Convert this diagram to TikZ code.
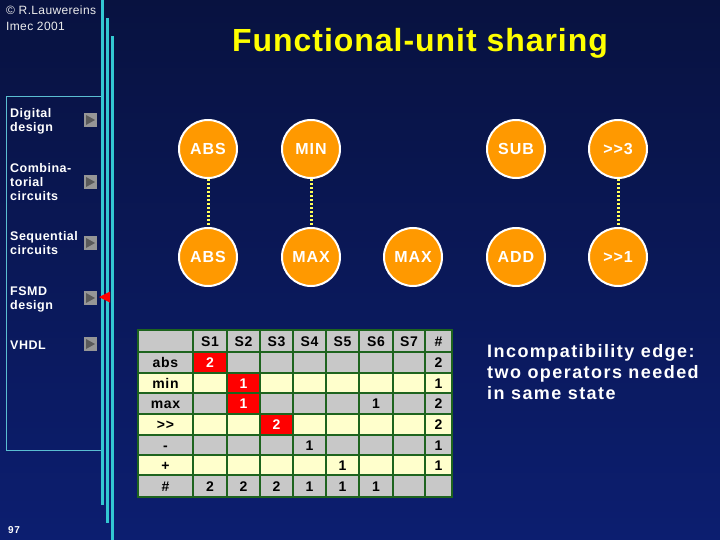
\documentclass[tikz,border=0pt]{standalone}
\usepackage{fontspec}
\setmainfont{Liberation Sans}
\definecolor{bgtop}{RGB}{8,18,64}
\definecolor{bgbot}{RGB}{12,30,112}
\definecolor{teal}{RGB}{51,200,210}
\definecolor{boxline}{RGB}{90,190,210}
\definecolor{orng}{RGB}{255,153,0}
\definecolor{ttl}{RGB}{255,255,0}
\definecolor{cgray}{RGB}{200,200,200}
\definecolor{cyell}{RGB}{255,255,204}
\definecolor{cred}{RGB}{255,0,0}
\definecolor{grid}{RGB}{30,100,30}
\definecolor{edgey}{RGB}{255,255,90}
\definecolor{btn}{RGB}{150,150,150}
\definecolor{btntri}{RGB}{90,90,90}
\begin{document}
\begin{tikzpicture}[x={(1pt,0)},y={(0,-1pt)},
  op/.style={circle,fill=orng,draw=white,line width=2pt,minimum size=58pt,inner sep=0pt,
    text=white,font=\fontsize{16}{16}\selectfont\bfseries\addfontfeature{LetterSpace=6}},
  incomp/.style={draw=edgey,line width=3pt,dash pattern=on 2.5pt off 1.5pt},
  menu/.style={anchor=north west,align=left,text=white,inner sep=0pt,
    font=\fontsize{12.5}{14}\selectfont\bfseries\addfontfeature{LetterSpace=4}},
  cell/.style={text=black,font=\fontsize{14}{14}\selectfont\bfseries\addfontfeature{LetterSpace=5},
    inner sep=0pt,text height=10pt,text depth=0pt},
  redcell/.style={cell,text=white}]
\useasboundingbox (0,0) rectangle (720,540);
\shade[top color=bgtop,bottom color=bgbot] (0,0) rectangle (720,540);
% vertical bars
\fill[teal] (101,0) rectangle (103.5,505);
\fill[teal] (106,18) rectangle (108.5,523);
\fill[teal] (111,36) rectangle (113.5,540);
\draw[boxline,line width=1pt] (101,96.5) -- (6.5,96.5) -- (6.5,450) -- (101,450);
% copyright
\node[anchor=north west,inner sep=0pt,text=white!85!gray,font=\fontsize{12}{15.5}\selectfont\addfontfeature{LetterSpace=3},align=left] (copy) at (6,6) {© R.Lauwereins\\Imec 2001};
% title
\node[text=ttl,font=\fontsize{32}{32}\selectfont\bfseries\addfontfeature{LetterSpace=3}] (title) at (420,43) {Functional-unit sharing};
% menu
\node[menu] (m1) at (10,108.5) {Digital\\design};
\node[menu] (m2) at (10,163.5) {Combina-\\torial\\circuits};
\node[menu] (m3) at (10,231.5) {Sequential\\circuits};
\node[menu] (m4) at (10,286.5) {FSMD\\design};
\node[menu] (m5) at (10,340.5) {VHDL};
\foreach \yy in {120,182,243,298,344}{
  \fill[btn] (83.5,\yy-7) rectangle (96.5,\yy+7);
  \fill[btntri] (86,\yy-5) -- (95,\yy) -- (86,\yy+5) -- cycle;
}
\fill[cred] (99,297) -- (110,291.5) -- (110,302.5) -- cycle;
\node[anchor=south west,inner sep=0pt,text=white,font=\fontsize{10}{10}\selectfont\bfseries\addfontfeature{LetterSpace=5}] (pg) at (8,534) {97};
% operators
\node[op] (abs1) at (208,149) {ABS};
\node[op] (min1) at (311,149) {MIN};
\node[op] (sub1) at (516,149) {SUB};
\node[op] (shr3) at (618,149) {>{}>3};
\node[op] (abs2) at (208,257) {ABS};
\node[op] (max1) at (311,257) {MAX};
\node[op] (max2) at (413,257) {MAX};
\node[op] (add1) at (516,257) {ADD};
\node[op] (shr1) at (618,257) {>{}>1};
\draw[incomp] (abs1) -- (abs2);
\draw[incomp] (min1) -- (max1);
\draw[incomp] (shr3) -- (shr1);
% note
\node[anchor=north west,inner sep=0pt,align=left,text=white,font=\fontsize{18}{21}\selectfont\bfseries\addfontfeature{LetterSpace=8}] (note) at (487,344) {Incompatibility edge:\\two operators needed\\in same state};
% table
\fill[grid] (137,329) rectangle (453,498);
\foreach \ya/\yb/\cc in {330/352/cgray,352/373/cgray,373/393/cyell,393/414/cgray,414/435/cyell,435/455/cgray,455/475/cyell,475/497/cgray}{
  \foreach \xa/\xb in {138/193,193/227,227/260,260/293,293/326,326/359,359/393,393/425,425/452}{
    \fill[\cc] (\xa+1,\ya+1) rectangle (\xb-1,\yb-1);
  }
}
\fill[cred] (194,353) rectangle (226,372);
\fill[cred] (228,374) rectangle (259,392);
\fill[cred] (228,394) rectangle (259,413);
\fill[cred] (261,415) rectangle (292,434);
% header
\foreach \t/\x [count=\i] in {S1/210,S2/243.5,S3/276.5,S4/309.5,S5/342.5,S6/376,S7/409,\#/438.5}{
  \node[cell] (h\i) at (\x,341.5) {\t};
}
\foreach \t/\y [count=\i] in {abs/362.5,min/383,max/403.5,>{}>/424.5,-/445,+/465,\#/486}{
  \node[cell] (r\i) at (165.5,\y) {\t};
}
\node[redcell] (c11) at (210,362.5) {2};
\node[redcell] (c22) at (243.5,383) {1};
\node[redcell] (c32) at (243.5,403.5) {1};
\node[redcell] (c43) at (276.5,424.5) {2};
\node[cell] (c36) at (376,403.5) {1};
\node[cell] (c54) at (309.5,445) {1};
\node[cell] (c65) at (342.5,465) {1};
\foreach \v/\y [count=\i] in {2/362.5,1/383,2/403.5,2/424.5,1/445,1/465}{
  \node[cell] (n\i) at (438.5,\y) {\v};
}
\foreach \v/\x [count=\i] in {2/210,2/243.5,2/276.5,1/309.5,1/342.5,1/376}{
  \node[cell] (s\i) at (\x,486) {\v};
}
\end{tikzpicture}
\end{document}
